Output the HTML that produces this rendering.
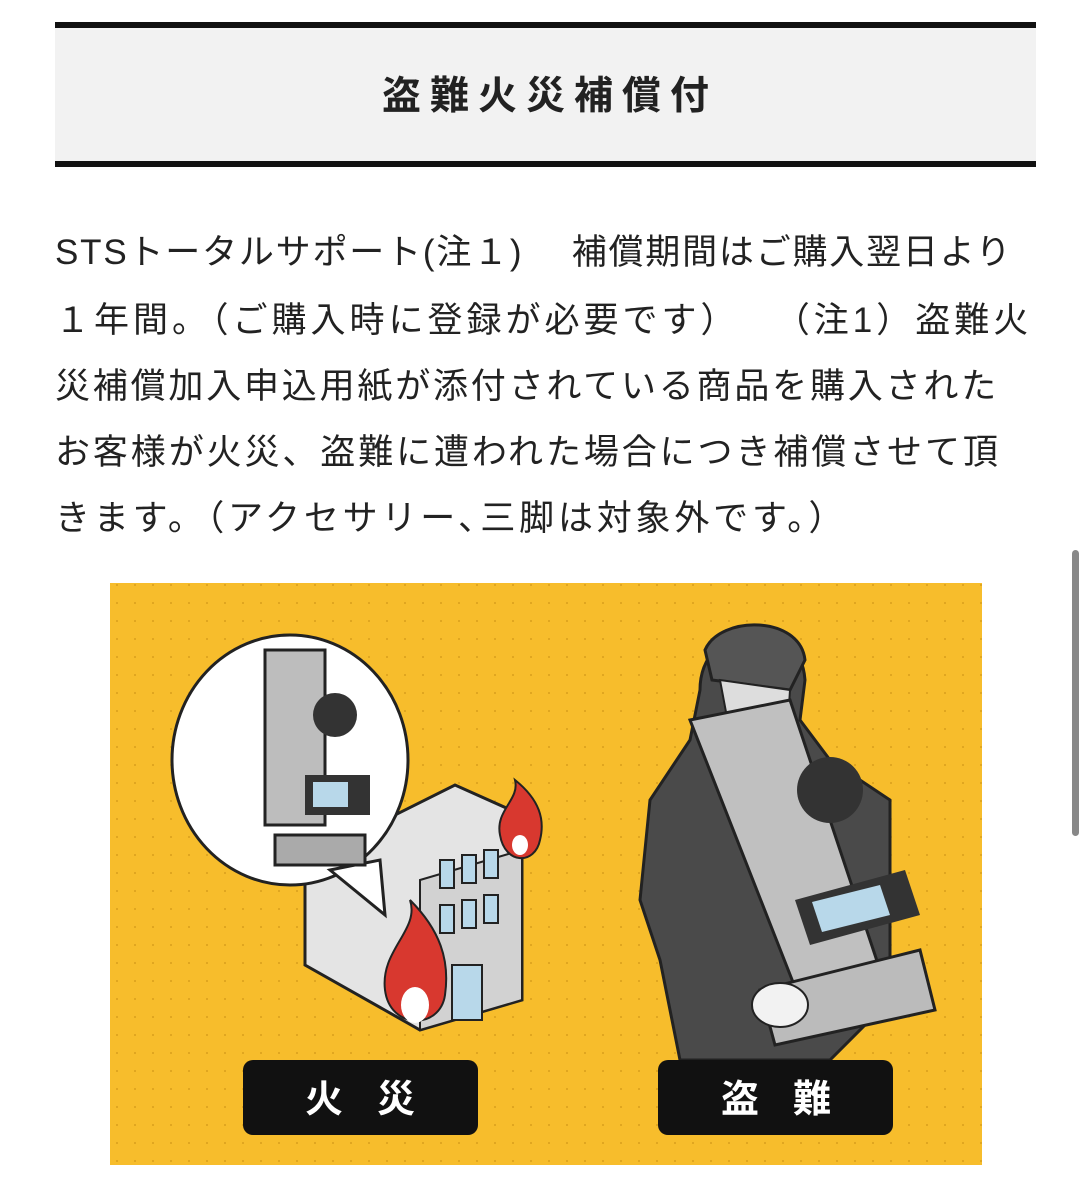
<!DOCTYPE html>
<html><head><meta charset="utf-8"><style>
body{margin:0;width:1091px;height:1200px;background:#fff;position:relative;overflow:hidden;font-family:"Liberation Sans","Noto Sans CJK JP",sans-serif;color:#222}
.hd{position:absolute;left:55px;top:22px;width:981px;height:133px;background:#f2f2f2;border-top:6px solid #111;border-bottom:6px solid #111;box-sizing:content-box}
.hd div{position:absolute;left:0;right:0;top:44px;text-align:center;font-size:39px;font-weight:bold;letter-spacing:9px;line-height:50px;padding-left:9px}
.l{position:absolute;left:55px;font-size:35px;line-height:40px;white-space:nowrap}
.sb{position:absolute;left:1072px;top:550px;width:7px;height:286px;border-radius:4px;background:#888}
</style></head><body>
<div class="hd"><div>盗難火災補償付</div></div>
<div class="l" style="top:233px;letter-spacing:1.8px">STSトータルサポート(注１)　 補償期間はご購入翌日より</div>
<div class="l" style="top:301px;letter-spacing:4px">１年間。（ご購入時に登録が必要です）　 （注1）盗難火</div>
<div class="l" style="top:367px;letter-spacing:2.8px">災補償加入申込用紙が添付されている商品を購入された</div>
<div class="l" style="top:433px;letter-spacing:2.9px">お客様が火災、盗難に遭われた場合につき補償させて頂</div>
<div class="l" style="top:499px;letter-spacing:3.8px">きます。（アクセサリー､三脚は対象外です。）</div>
<div class="sb"></div>
<svg style="position:absolute;left:0;top:0" width="1091" height="1200">
<defs><pattern id="d" width="18" height="18" patternUnits="userSpaceOnUse"><circle cx="9" cy="9" r="1" fill="#d99f1c"/></pattern></defs>
<rect x="110" y="583" width="872" height="582" fill="#f7bd2c"/>
<rect x="110" y="583" width="872" height="582" fill="url(#d)"/>
<polygon points="305,860 455,785 522,815 522,1000 420,1030 305,965" fill="#e4e4e4" stroke="#222" stroke-width="3"/>
<polygon points="420,880 522,850 522,1000 420,1030" fill="#d2d2d2" stroke="#222" stroke-width="2"/>
<g fill="#b8d8ea" stroke="#222" stroke-width="2">
<rect x="440" y="860" width="14" height="28"/><rect x="462" y="855" width="14" height="28"/><rect x="484" y="850" width="14" height="28"/>
<rect x="440" y="905" width="14" height="28"/><rect x="462" y="900" width="14" height="28"/><rect x="484" y="895" width="14" height="28"/>
<rect x="452" y="965" width="30" height="55"/></g>
<ellipse cx="290" cy="760" rx="118" ry="125" fill="#fff" stroke="#222" stroke-width="3"/>
<polygon points="330,870 380,860 385,915" fill="#fff" stroke="#222" stroke-width="3"/>
<rect x="265" y="650" width="60" height="175" fill="#bdbdbd" stroke="#222" stroke-width="3"/>
<circle cx="335" cy="715" r="22" fill="#333"/>
<rect x="305" y="775" width="65" height="40" fill="#333"/><rect x="313" y="782" width="35" height="25" fill="#b8d8ea"/>
<rect x="275" y="835" width="90" height="30" fill="#aaa" stroke="#222" stroke-width="3"/>
<g fill="#d8382f" stroke="#222" stroke-width="2">
<path d="M385,990 C380,950 420,930 410,900 C440,930 450,960 445,995 C440,1030 390,1030 385,990Z"/>
<path d="M500,835 C495,810 520,800 515,780 C540,800 545,820 540,840 C535,865 505,865 500,835Z"/></g>
<ellipse cx="415" cy="1005" rx="14" ry="18" fill="#fff"/><ellipse cx="520" cy="845" rx="8" ry="10" fill="#fff"/>
<path d="M700,690 C700,620 800,610 805,680 L800,720 L830,760 L890,800 L890,1000 L830,1060 L680,1060 L660,960 L640,900 L650,800 L690,740Z" fill="#4a4a4a" stroke="#222" stroke-width="3"/>
<path d="M705,650 C720,615 800,615 805,660 L790,690 L712,680Z" fill="#555" stroke="#222" stroke-width="3"/>
<path d="M720,680 L790,690 L785,770 L735,760Z" fill="#ddd" stroke="#222" stroke-width="2"/>
<polygon points="690,720 790,700 880,970 800,1000" fill="#c0c0c0" stroke="#222" stroke-width="3"/>
<circle cx="830" cy="790" r="33" fill="#333"/>
<polygon points="795,900 905,870 920,915 810,945" fill="#333"/><polygon points="812,902 880,885 890,915 822,932" fill="#b8d8ea"/>
<polygon points="760,990 920,950 935,1010 775,1045" fill="#bbb" stroke="#222" stroke-width="3"/>
<ellipse cx="780" cy="1005" rx="28" ry="22" fill="#f2f2f2" stroke="#222" stroke-width="2"/>
<rect x="243" y="1060" width="235" height="75" rx="10" fill="#111"/>
<rect x="658" y="1060" width="235" height="75" rx="10" fill="#111"/>
<text x="377" y="1112" fill="#fff" font-size="38" font-weight="bold" text-anchor="middle" font-family="Noto Sans CJK JP,sans-serif" letter-spacing="34">火災</text>
<text x="793" y="1112" fill="#fff" font-size="38" font-weight="bold" text-anchor="middle" font-family="Noto Sans CJK JP,sans-serif" letter-spacing="34">盗難</text>
</svg>
</body></html>
